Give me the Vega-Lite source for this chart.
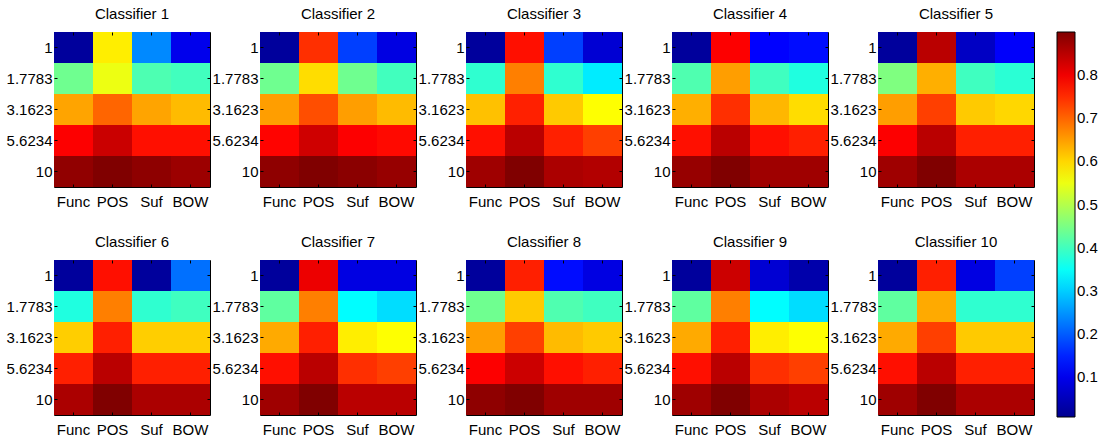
{
  "$schema": "https://vega.github.io/schema/vega-lite/v6.json",
  "padding": {"left": 5, "top": 6, "right": 5, "bottom": 5},
  "data": {
    "values": [
      {"c": 1, "f": "Func", "k": "1", "v": 0.02}, {"c": 1, "f": "POS", "k": "1", "v": 0.58}, {"c": 1, "f": "Suf", "k": "1", "v": 0.24}, {"c": 1, "f": "BOW", "k": "1", "v": 0.10},
      {"c": 1, "f": "Func", "k": "1.7783", "v": 0.44}, {"c": 1, "f": "POS", "k": "1.7783", "v": 0.55}, {"c": 1, "f": "Suf", "k": "1.7783", "v": 0.41}, {"c": 1, "f": "BOW", "k": "1.7783", "v": 0.40},
      {"c": 1, "f": "Func", "k": "3.1623", "v": 0.645}, {"c": 1, "f": "POS", "k": "3.1623", "v": 0.70}, {"c": 1, "f": "Suf", "k": "3.1623", "v": 0.645}, {"c": 1, "f": "BOW", "k": "3.1623", "v": 0.625},
      {"c": 1, "f": "Func", "k": "5.6234", "v": 0.79}, {"c": 1, "f": "POS", "k": "5.6234", "v": 0.835}, {"c": 1, "f": "Suf", "k": "5.6234", "v": 0.775}, {"c": 1, "f": "BOW", "k": "5.6234", "v": 0.775},
      {"c": 1, "f": "Func", "k": "10", "v": 0.885}, {"c": 1, "f": "POS", "k": "10", "v": 0.9}, {"c": 1, "f": "Suf", "k": "10", "v": 0.888}, {"c": 1, "f": "BOW", "k": "10", "v": 0.875},

      {"c": 2, "f": "Func", "k": "1", "v": 0.02}, {"c": 2, "f": "POS", "k": "1", "v": 0.747}, {"c": 2, "f": "Suf", "k": "1", "v": 0.175}, {"c": 2, "f": "BOW", "k": "1", "v": 0.09},
      {"c": 2, "f": "Func", "k": "1.7783", "v": 0.44}, {"c": 2, "f": "POS", "k": "1.7783", "v": 0.595}, {"c": 2, "f": "Suf", "k": "1.7783", "v": 0.44}, {"c": 2, "f": "BOW", "k": "1.7783", "v": 0.40},
      {"c": 2, "f": "Func", "k": "3.1623", "v": 0.65}, {"c": 2, "f": "POS", "k": "3.1623", "v": 0.72}, {"c": 2, "f": "Suf", "k": "3.1623", "v": 0.65}, {"c": 2, "f": "BOW", "k": "3.1623", "v": 0.625},
      {"c": 2, "f": "Func", "k": "5.6234", "v": 0.785}, {"c": 2, "f": "POS", "k": "5.6234", "v": 0.83}, {"c": 2, "f": "Suf", "k": "5.6234", "v": 0.79}, {"c": 2, "f": "BOW", "k": "5.6234", "v": 0.78},
      {"c": 2, "f": "Func", "k": "10", "v": 0.887}, {"c": 2, "f": "POS", "k": "10", "v": 0.9}, {"c": 2, "f": "Suf", "k": "10", "v": 0.89}, {"c": 2, "f": "BOW", "k": "10", "v": 0.88},

      {"c": 3, "f": "Func", "k": "1", "v": 0.02}, {"c": 3, "f": "POS", "k": "1", "v": 0.775}, {"c": 3, "f": "Suf", "k": "1", "v": 0.175}, {"c": 3, "f": "BOW", "k": "1", "v": 0.075},
      {"c": 3, "f": "Func", "k": "1.7783", "v": 0.384}, {"c": 3, "f": "POS", "k": "1.7783", "v": 0.677}, {"c": 3, "f": "Suf", "k": "1.7783", "v": 0.384}, {"c": 3, "f": "BOW", "k": "1.7783", "v": 0.326},
      {"c": 3, "f": "Func", "k": "3.1623", "v": 0.62}, {"c": 3, "f": "POS", "k": "3.1623", "v": 0.76}, {"c": 3, "f": "Suf", "k": "3.1623", "v": 0.612}, {"c": 3, "f": "BOW", "k": "3.1623", "v": 0.565},
      {"c": 3, "f": "Func", "k": "5.6234", "v": 0.775}, {"c": 3, "f": "POS", "k": "5.6234", "v": 0.849}, {"c": 3, "f": "Suf", "k": "5.6234", "v": 0.76}, {"c": 3, "f": "BOW", "k": "5.6234", "v": 0.733},
      {"c": 3, "f": "Func", "k": "10", "v": 0.873}, {"c": 3, "f": "POS", "k": "10", "v": 0.9}, {"c": 3, "f": "Suf", "k": "10", "v": 0.862}, {"c": 3, "f": "BOW", "k": "10", "v": 0.856},

      {"c": 4, "f": "Func", "k": "1", "v": 0.02}, {"c": 4, "f": "POS", "k": "1", "v": 0.79}, {"c": 4, "f": "Suf", "k": "1", "v": 0.12}, {"c": 4, "f": "BOW", "k": "1", "v": 0.13},
      {"c": 4, "f": "Func", "k": "1.7783", "v": 0.412}, {"c": 4, "f": "POS", "k": "1.7783", "v": 0.65}, {"c": 4, "f": "Suf", "k": "1.7783", "v": 0.398}, {"c": 4, "f": "BOW", "k": "1.7783", "v": 0.37},
      {"c": 4, "f": "Func", "k": "3.1623", "v": 0.635}, {"c": 4, "f": "POS", "k": "3.1623", "v": 0.747}, {"c": 4, "f": "Suf", "k": "3.1623", "v": 0.628}, {"c": 4, "f": "BOW", "k": "3.1623", "v": 0.595},
      {"c": 4, "f": "Func", "k": "5.6234", "v": 0.775}, {"c": 4, "f": "POS", "k": "5.6234", "v": 0.849}, {"c": 4, "f": "Suf", "k": "5.6234", "v": 0.775}, {"c": 4, "f": "BOW", "k": "5.6234", "v": 0.761},
      {"c": 4, "f": "Func", "k": "10", "v": 0.88}, {"c": 4, "f": "POS", "k": "10", "v": 0.9}, {"c": 4, "f": "Suf", "k": "10", "v": 0.873}, {"c": 4, "f": "BOW", "k": "10", "v": 0.873},

      {"c": 5, "f": "Func", "k": "1", "v": 0.02}, {"c": 5, "f": "POS", "k": "1", "v": 0.849}, {"c": 5, "f": "Suf", "k": "1", "v": 0.06}, {"c": 5, "f": "BOW", "k": "1", "v": 0.115},
      {"c": 5, "f": "Func", "k": "1.7783", "v": 0.454}, {"c": 5, "f": "POS", "k": "1.7783", "v": 0.635}, {"c": 5, "f": "Suf", "k": "1.7783", "v": 0.398}, {"c": 5, "f": "BOW", "k": "1.7783", "v": 0.38},
      {"c": 5, "f": "Func", "k": "3.1623", "v": 0.65}, {"c": 5, "f": "POS", "k": "3.1623", "v": 0.733}, {"c": 5, "f": "Suf", "k": "3.1623", "v": 0.612}, {"c": 5, "f": "BOW", "k": "3.1623", "v": 0.6},
      {"c": 5, "f": "Func", "k": "5.6234", "v": 0.79}, {"c": 5, "f": "POS", "k": "5.6234", "v": 0.849}, {"c": 5, "f": "Suf", "k": "5.6234", "v": 0.761}, {"c": 5, "f": "BOW", "k": "5.6234", "v": 0.761},
      {"c": 5, "f": "Func", "k": "10", "v": 0.873}, {"c": 5, "f": "POS", "k": "10", "v": 0.9}, {"c": 5, "f": "Suf", "k": "10", "v": 0.862}, {"c": 5, "f": "BOW", "k": "10", "v": 0.862},

      {"c": 6, "f": "Func", "k": "1", "v": 0.02}, {"c": 6, "f": "POS", "k": "1", "v": 0.775}, {"c": 6, "f": "Suf", "k": "1", "v": 0.02}, {"c": 6, "f": "BOW", "k": "1", "v": 0.218},
      {"c": 6, "f": "Func", "k": "1.7783", "v": 0.37}, {"c": 6, "f": "POS", "k": "1.7783", "v": 0.677}, {"c": 6, "f": "Suf", "k": "1.7783", "v": 0.384}, {"c": 6, "f": "BOW", "k": "1.7783", "v": 0.398},
      {"c": 6, "f": "Func", "k": "3.1623", "v": 0.608}, {"c": 6, "f": "POS", "k": "3.1623", "v": 0.761}, {"c": 6, "f": "Suf", "k": "3.1623", "v": 0.608}, {"c": 6, "f": "BOW", "k": "3.1623", "v": 0.608},
      {"c": 6, "f": "Func", "k": "5.6234", "v": 0.761}, {"c": 6, "f": "POS", "k": "5.6234", "v": 0.849}, {"c": 6, "f": "Suf", "k": "5.6234", "v": 0.761}, {"c": 6, "f": "BOW", "k": "5.6234", "v": 0.761},
      {"c": 6, "f": "Func", "k": "10", "v": 0.862}, {"c": 6, "f": "POS", "k": "10", "v": 0.9}, {"c": 6, "f": "Suf", "k": "10", "v": 0.862}, {"c": 6, "f": "BOW", "k": "10", "v": 0.862},

      {"c": 7, "f": "Func", "k": "1", "v": 0.02}, {"c": 7, "f": "POS", "k": "1", "v": 0.804}, {"c": 7, "f": "Suf", "k": "1", "v": 0.09}, {"c": 7, "f": "BOW", "k": "1", "v": 0.09},
      {"c": 7, "f": "Func", "k": "1.7783", "v": 0.426}, {"c": 7, "f": "POS", "k": "1.7783", "v": 0.677}, {"c": 7, "f": "Suf", "k": "1.7783", "v": 0.342}, {"c": 7, "f": "BOW", "k": "1.7783", "v": 0.313},
      {"c": 7, "f": "Func", "k": "3.1623", "v": 0.64}, {"c": 7, "f": "POS", "k": "3.1623", "v": 0.761}, {"c": 7, "f": "Suf", "k": "3.1623", "v": 0.58}, {"c": 7, "f": "BOW", "k": "3.1623", "v": 0.565},
      {"c": 7, "f": "Func", "k": "5.6234", "v": 0.775}, {"c": 7, "f": "POS", "k": "5.6234", "v": 0.849}, {"c": 7, "f": "Suf", "k": "5.6234", "v": 0.747}, {"c": 7, "f": "BOW", "k": "5.6234", "v": 0.733},
      {"c": 7, "f": "Func", "k": "10", "v": 0.873}, {"c": 7, "f": "POS", "k": "10", "v": 0.9}, {"c": 7, "f": "Suf", "k": "10", "v": 0.849}, {"c": 7, "f": "BOW", "k": "10", "v": 0.849},

      {"c": 8, "f": "Func", "k": "1", "v": 0.02}, {"c": 8, "f": "POS", "k": "1", "v": 0.761}, {"c": 8, "f": "Suf", "k": "1", "v": 0.13}, {"c": 8, "f": "BOW", "k": "1", "v": 0.09},
      {"c": 8, "f": "Func", "k": "1.7783", "v": 0.44}, {"c": 8, "f": "POS", "k": "1.7783", "v": 0.612}, {"c": 8, "f": "Suf", "k": "1.7783", "v": 0.412}, {"c": 8, "f": "BOW", "k": "1.7783", "v": 0.398},
      {"c": 8, "f": "Func", "k": "3.1623", "v": 0.65}, {"c": 8, "f": "POS", "k": "3.1623", "v": 0.733}, {"c": 8, "f": "Suf", "k": "3.1623", "v": 0.625}, {"c": 8, "f": "BOW", "k": "3.1623", "v": 0.612},
      {"c": 8, "f": "Func", "k": "5.6234", "v": 0.79}, {"c": 8, "f": "POS", "k": "5.6234", "v": 0.833}, {"c": 8, "f": "Suf", "k": "5.6234", "v": 0.775}, {"c": 8, "f": "BOW", "k": "5.6234", "v": 0.761},
      {"c": 8, "f": "Func", "k": "10", "v": 0.887}, {"c": 8, "f": "POS", "k": "10", "v": 0.9}, {"c": 8, "f": "Suf", "k": "10", "v": 0.873}, {"c": 8, "f": "BOW", "k": "10", "v": 0.873},

      {"c": 9, "f": "Func", "k": "1", "v": 0.02}, {"c": 9, "f": "POS", "k": "1", "v": 0.833}, {"c": 9, "f": "Suf", "k": "1", "v": 0.075}, {"c": 9, "f": "BOW", "k": "1", "v": 0.035},
      {"c": 9, "f": "Func", "k": "1.7783", "v": 0.426}, {"c": 9, "f": "POS", "k": "1.7783", "v": 0.677}, {"c": 9, "f": "Suf", "k": "1.7783", "v": 0.342}, {"c": 9, "f": "BOW", "k": "1.7783", "v": 0.313},
      {"c": 9, "f": "Func", "k": "3.1623", "v": 0.64}, {"c": 9, "f": "POS", "k": "3.1623", "v": 0.761}, {"c": 9, "f": "Suf", "k": "3.1623", "v": 0.58}, {"c": 9, "f": "BOW", "k": "3.1623", "v": 0.565},
      {"c": 9, "f": "Func", "k": "5.6234", "v": 0.775}, {"c": 9, "f": "POS", "k": "5.6234", "v": 0.849}, {"c": 9, "f": "Suf", "k": "5.6234", "v": 0.747}, {"c": 9, "f": "BOW", "k": "5.6234", "v": 0.733},
      {"c": 9, "f": "Func", "k": "10", "v": 0.873}, {"c": 9, "f": "POS", "k": "10", "v": 0.9}, {"c": 9, "f": "Suf", "k": "10", "v": 0.862}, {"c": 9, "f": "BOW", "k": "10", "v": 0.849},

      {"c": 10, "f": "Func", "k": "1", "v": 0.02}, {"c": 10, "f": "POS", "k": "1", "v": 0.761}, {"c": 10, "f": "Suf", "k": "1", "v": 0.09}, {"c": 10, "f": "BOW", "k": "1", "v": 0.175},
      {"c": 10, "f": "Func", "k": "1.7783", "v": 0.426}, {"c": 10, "f": "POS", "k": "1.7783", "v": 0.64}, {"c": 10, "f": "Suf", "k": "1.7783", "v": 0.384}, {"c": 10, "f": "BOW", "k": "1.7783", "v": 0.384},
      {"c": 10, "f": "Func", "k": "3.1623", "v": 0.64}, {"c": 10, "f": "POS", "k": "3.1623", "v": 0.733}, {"c": 10, "f": "Suf", "k": "3.1623", "v": 0.612}, {"c": 10, "f": "BOW", "k": "3.1623", "v": 0.612},
      {"c": 10, "f": "Func", "k": "5.6234", "v": 0.775}, {"c": 10, "f": "POS", "k": "5.6234", "v": 0.849}, {"c": 10, "f": "Suf", "k": "5.6234", "v": 0.761}, {"c": 10, "f": "BOW", "k": "5.6234", "v": 0.761},
      {"c": 10, "f": "Func", "k": "10", "v": 0.873}, {"c": 10, "f": "POS", "k": "10", "v": 0.9}, {"c": 10, "f": "Suf", "k": "10", "v": 0.862}, {"c": 10, "f": "BOW", "k": "10", "v": 0.862}
    ]
  },
  "facet": {
    "field": "c",
    "type": "ordinal",
    "title": null,
    "header": {"labelExpr": "'Classifier ' + datum.value", "labelFontSize": 15, "labelPadding": 10}
  },
  "columns": 5,
  "bounds": "flush",
  "spacing": {"column": 50, "row": 73},
  "spec": {
    "width": 156,
    "height": 155,
    "layer": [
      {
        "mark": {"type": "rect"},
        "encoding": {
          "x": {"field": "f", "type": "nominal", "sort": ["Func", "POS", "Suf", "BOW"], "title": null,
                "axis": {"orient": "bottom", "labelAngle": 0, "labelPadding": 10}},
          "y": {"field": "k", "type": "nominal", "sort": ["1", "1.7783", "3.1623", "5.6234", "10"], "title": null,
                "axis": {"orient": "left", "labelPadding": 5}},
          "color": {
            "field": "v",
            "type": "quantitative",
            "scale": {
              "domain": [0.008, 0.1195, 0.343, 0.5655, 0.788, 0.9],
              "range": ["#000090", "#0000ff", "#00ffff", "#ffff00", "#ff0000", "#800000"],
              "interpolate": "rgb"
            },
            "legend": {
              "title": null,
              "values": [0.1, 0.2, 0.3, 0.4, 0.5, 0.6, 0.7, 0.8],
              "gradientLength": 385,
              "gradientThickness": 18,
              "offset": 22
            }
          }
        }
      },
      {
        "mark": {"type": "rect", "fillOpacity": 0},
        "encoding": {
          "x": {"field": "f", "type": "nominal", "sort": ["Func", "POS", "Suf", "BOW"], "title": null,
                "axis": {"orient": "top", "labels": false}},
          "y": {"field": "k", "type": "nominal", "sort": ["1", "1.7783", "3.1623", "5.6234", "10"], "title": null,
                "axis": {"orient": "right", "labels": false}}
        }
      }
    ],
    "resolve": {"axis": {"x": "independent", "y": "independent"}}
  },
  "resolve": {"axis": {"x": "independent", "y": "independent"}},
  "config": {
    "font": "Liberation Sans",
    "background": "white",
    "view": {"stroke": "black", "strokeWidth": 1},
    "axis": {
      "domain": false,
      "grid": false,
      "ticks": true,
      "tickColor": "black",
      "tickSize": -3,
      "labelColor": "black",
      "labelFontSize": 15,
      "labelPadding": 4
    },
    "header": {"labelColor": "black", "labelFont": "Liberation Sans"},
    "legend": {
      "labelFontSize": 15,
      "labelColor": "black",
      "labelOffset": 4,
      "gradientStrokeColor": "black",
      "gradientStrokeWidth": 1
    }
  }
}
